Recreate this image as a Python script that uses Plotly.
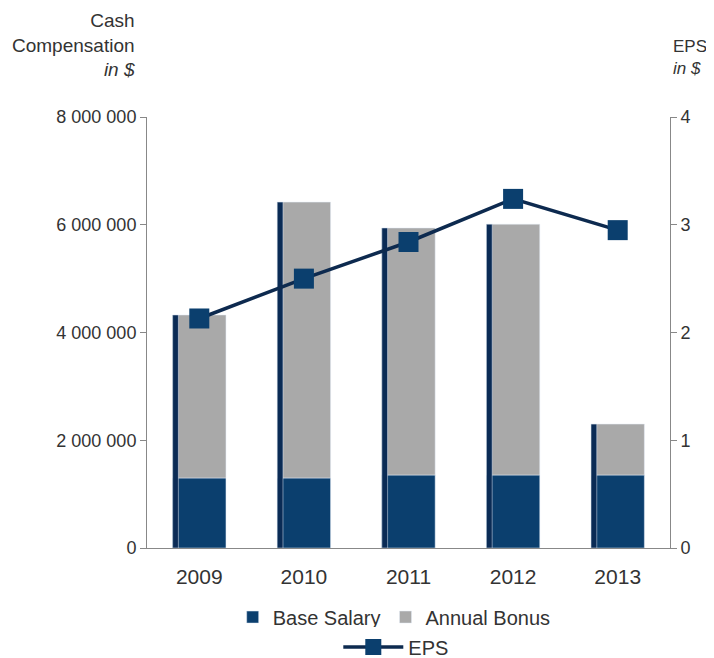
import plotly.graph_objects as go

years = ["2009", "2010", "2011", "2012", "2013"]
base_salary = [1300000, 1300000, 1355000, 1355000, 1355000]
annual_bonus = [3025000, 5120000, 4585000, 4655000, 945000]
eps = [2.13, 2.50, 2.84, 3.24, 2.95]

left_ticks = [0, 2000000, 4000000, 6000000, 8000000]
left_labels = ["0", "2 000 000", "4 000 000", "6 000 000", "8 000 000"]
right_ticks = [0, 1, 2, 3, 4]

totals = [b + a for b, a in zip(base_salary, annual_bonus)]

NAVY = "#0b3f6e"
EDGE = "#0a2b55"
GRAY = "#a9a9a9"
TXT = "#333333"
AX = "#888888"

fig = go.Figure()
fig.add_trace(go.Bar(x=years, y=base_salary, name="Base Salary", marker_color=NAVY,
                     width=0.51, legend="legend"))
fig.add_trace(go.Bar(x=years, y=annual_bonus, base=base_salary, name="Annual Bonus",
                     marker_color=GRAY, width=0.51, legend="legend"))
fig.add_trace(go.Bar(x=years, y=totals, marker_color=EDGE, width=0.055, offset=-0.255,
                     showlegend=False, hoverinfo="skip"))
fig.add_trace(go.Scatter(x=years, y=eps, name="EPS", yaxis="y2", mode="lines+markers",
                         line=dict(color="#0d2a4f", width=3.5),
                         marker=dict(symbol="square", size=20, color=NAVY),
                         legend="legend2"))

fig.update_layout(
    width=706, height=650,
    margin=dict(l=139, r=44, t=109, b=110, autoexpand=False),
    barmode="overlay",
    plot_bgcolor="white", paper_bgcolor="white",
    font=dict(family="Liberation Sans, Arial, sans-serif", size=19, color=TXT),
    xaxis=dict(range=[-0.5, 4.5], showline=True, linecolor=AX, linewidth=1,
               ticks="", showgrid=False, tickfont=dict(size=21), ticklabelstandoff=10),
    yaxis=dict(range=[0, 8000000], tickvals=left_ticks, ticktext=left_labels,
               showline=True, linecolor=AX, linewidth=1, ticks="outside",
               ticklen=6, tickcolor=AX, showgrid=False, zeroline=False,
               tickfont=dict(size=18)),
    yaxis2=dict(range=[0, 4], tickvals=right_ticks, overlaying="y", side="right",
                showline=True, linecolor=AX, linewidth=1, ticks="outside",
                ticklen=6, tickcolor=AX, showgrid=False, zeroline=False,
                tickfont=dict(size=18)),
    legend=dict(orientation="h", xref="container", yref="container",
                x=0.547, xanchor="center", y=0.063, yanchor="middle",
                font=dict(size=20), itemwidth=30),
    legend2=dict(orientation="h", xref="container", yref="container",
                 x=0.55, xanchor="center", y=0.017, yanchor="middle",
                 font=dict(size=20), itemwidth=60),
    showlegend=True,
    annotations=[
        dict(text="Cash<br>Compensation<br><i>in $</i>", xref="paper", yref="paper",
             x=-0.019, xanchor="right", y=1.167, yanchor="middle", showarrow=False,
             align="right", font=dict(size=19, color=TXT)),
        dict(text="EPS<br><i>in $</i>", xref="paper", yref="paper",
             x=1.002, xanchor="left", y=1.139, yanchor="middle", showarrow=False,
             align="left", font=dict(size=17, color=TXT)),
    ],
)

fig.write_html("out.html")
